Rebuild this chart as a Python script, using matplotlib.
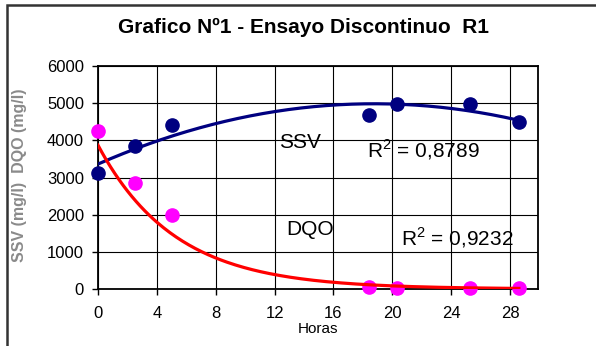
import numpy as np
import matplotlib
matplotlib.use('Agg')
import matplotlib.pyplot as plt
from matplotlib.patches import Rectangle

plt.rcParams['font.family'] = ['Liberation Sans', 'DejaVu Sans']
plt.rcParams['mathtext.fontset'] = 'custom'
plt.rcParams['mathtext.rm'] = 'Liberation Sans'

# data
horas = [0, 2.5, 5, 18.4, 20.3, 25.3, 28.6]
ssv = [3130, 3850, 4400, 4680, 4980, 4980, 4500]
dqo = [4250, 2850, 2000, 45, 40, 40, 35]

x_ticks = [0, 4, 8, 12, 16, 20, 24, 28]
y_ticks = [0, 1000, 2000, 3000, 4000, 5000, 6000]

title = 'Grafico Nº1 - Ensayo Discontinuo  R1'
r2_ssv = 'R$^2$ = 0,8789'
r2_dqo = 'R$^2$ = 0,9232'

# trend lines as Excel does: poly order 2 for SSV, exponential for DQO
t_fit = np.linspace(min(horas), max(horas), 200)
p_ssv = np.polyfit(horas, ssv, 2)
ssv_fit = np.polyval(p_ssv, t_fit)
b, ln_a = np.polyfit(horas, np.log(dqo), 1)
dqo_fit = np.exp(ln_a) * np.exp(b * t_fit)

fig = plt.figure(figsize=(5.96, 3.46), dpi=100)
fig.patch.set_facecolor('white')
ax = fig.add_axes([98 / 596, 57 / 346, 440 / 596, 223 / 346])

ax.plot(horas, ssv, 'o', color='#000080', markersize=9.5, clip_on=False, zorder=3)
ax.plot(horas, dqo, 'o', color='#FF00FF', markersize=9.5, clip_on=False, zorder=3)
ax.plot(t_fit, ssv_fit, color='#000080', linewidth=2.3, zorder=4)
ax.plot(t_fit, dqo_fit, color='#FF0000', linewidth=2.3, zorder=4)

ax.set_xlim(0, 29.9)
ax.set_ylim(0, 6000)
ax.set_xticks(x_ticks)
ax.set_yticks(y_ticks)
ax.grid(True, color='black', linewidth=0.8)
ax.set_axisbelow(True)
for s in ax.spines.values():
    s.set_linewidth(1.3)
    s.set_color('black')
ax.tick_params(axis='both', labelsize=12, length=4, width=1, direction='out')
ax.tick_params(axis='y', pad=6)
ax.tick_params(axis='x', pad=8)

ax.set_xlabel('Horas', fontsize=11, labelpad=1)
fig.text(20 / 596, 1 - 175 / 346, 'SSV (mg/l)  DQO (mg/l)', rotation=90,
         ha='center', va='center', fontsize=11.5, fontweight='bold', color='#8a8a8a')

fig.text(303 / 596, 1 - 27 / 346, title, ha='center', va='center',
         fontsize=15, fontweight='bold')

ax.text(13.7, 3930, 'SSV', fontsize=15, ha='center', va='center')
ax.text(18.3, 3740, r2_ssv, fontsize=15, ha='left', va='center')
ax.text(14.4, 1590, 'DQO', fontsize=15, ha='center', va='center')
ax.text(20.6, 1370, r2_dqo, fontsize=15, ha='left', va='center')

# outer chart frame (top and left edges visible)
fig.patches.append(Rectangle((7 / 596, -0.1), 1.2, 1 - 5 / 346 + 0.1,
                             transform=fig.transFigure, fill=False,
                             edgecolor='#333333', linewidth=1.8))

fig.savefig('out.png', dpi=100)
